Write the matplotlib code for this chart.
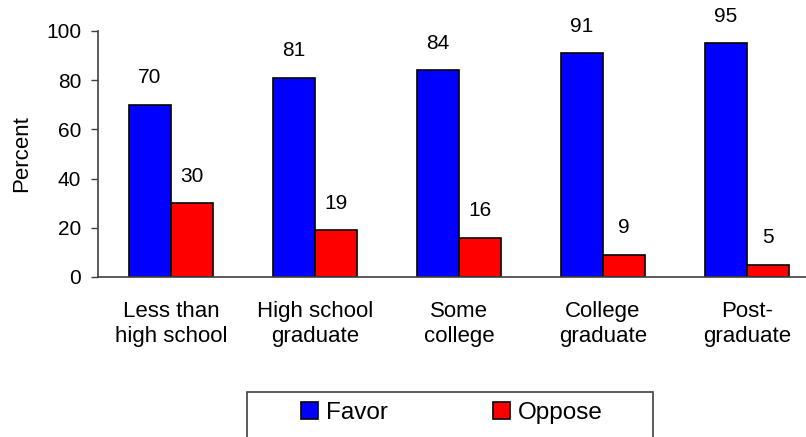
import matplotlib.pyplot as plt
from matplotlib.patches import Rectangle
import numpy as np

plt.rcParams["font.family"] = ["Liberation Sans", "DejaVu Sans"]

categories = ["Less than\nhigh school", "High school\ngraduate", "Some\ncollege",
              "College\ngraduate", "Post-\ngraduate"]
favor = [70, 81, 84, 91, 95]
oppose = [30, 19, 16, 9, 5]

BLUE = "#0000ff"
RED = "#ff0000"

fig = plt.figure(figsize=(8.06, 4.37), dpi=100)
ax = fig.add_axes([98 / 806, 1 - 277 / 437, 1 - 98 / 806, (277 - 31) / 437])

x = np.arange(len(categories))
w = 42 / 144
b1 = ax.bar(x - w / 2, favor, w, color=BLUE, edgecolor="black", linewidth=1.2, label="Favor")
b2 = ax.bar(x + w / 2, oppose, w, color=RED, edgecolor="black", linewidth=1.2, label="Oppose")

for bars, vals in ((b1, favor), (b2, oppose)):
    for bar, v in zip(bars, vals):
        ax.annotate(str(v), (bar.get_x() + bar.get_width() / 2, v),
                    xytext=(0, 12.5), textcoords="offset points",
                    ha="center", va="bottom", fontsize=15)

ax.set_xlim(-0.507, 4.41)
ax.set_ylim(0, 100)
ax.set_yticks(range(0, 101, 20))
ax.set_xticks(x)
ax.set_xticklabels(categories, fontsize=16, linespacing=1.3)
ax.tick_params(axis="x", length=0, pad=17)
ax.tick_params(axis="y", length=5, width=1, labelsize=15, pad=7, color="#404040")
ax.set_ylabel("Percent", fontsize=16, labelpad=10)

for s in ("top", "right"):
    ax.spines[s].set_visible(False)
for s in ("left", "bottom"):
    ax.spines[s].set_color("#404040")
    ax.spines[s].set_linewidth(1.2)

# legend box runs off the bottom edge
fig.patches.append(Rectangle((247 / 806, -0.05), (653 - 247) / 806, 0.05 + 1 - 392 / 437,
                             transform=fig.transFigure, facecolor="none",
                             edgecolor="#404040", linewidth=1.2))
fig.legend(handles=[b1, b2], labels=["Favor", "Oppose"], ncol=2, frameon=False,
           loc="center", bbox_to_anchor=(452 / 806, 1 - 413 / 437),
           fontsize=17.5, handlelength=0.7, handleheight=0.7, handletextpad=0.35,
           columnspacing=4.3)

fig.savefig("out.png", dpi=100)
